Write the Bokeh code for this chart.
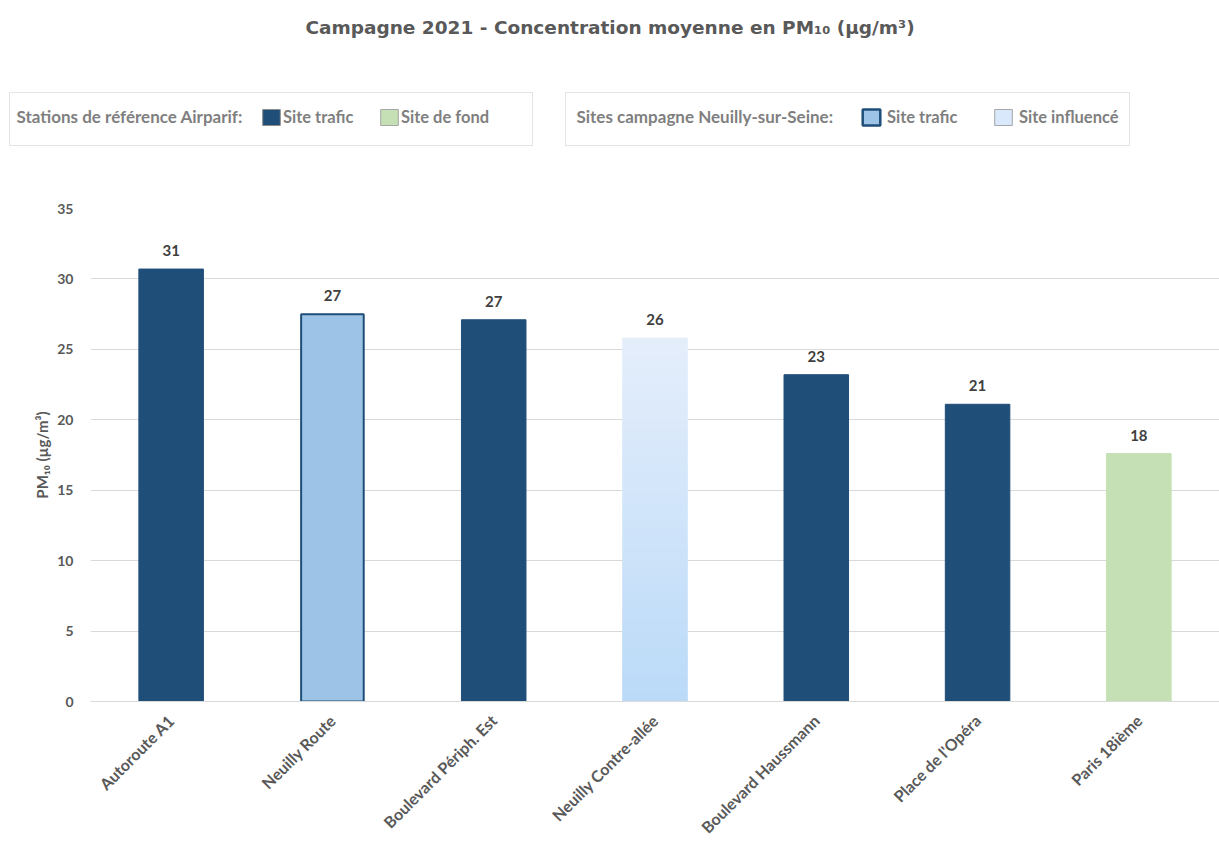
import math
from bokeh.plotting import figure
from bokeh.layouts import column
from bokeh.models import (ColumnDataSource, FactorRange, FixedTicker, LabelSet, Label,
                          BoxAnnotation, Legend, LegendItem, Range1d)
from bokeh.core.properties import value
from bokeh.embed import file_html
from bokeh.resources import INLINE

# ---- data ----
sites = ["Autoroute A1", "Neuilly Route", "Boulevard Périph. Est", "Neuilly Contre-allée",
         "Boulevard Haussmann", "Place de l'Opéra", "Paris 18ième"]
pm10 = [30.7, 27.5, 27.1, 25.8, 23.2, 21.1, 17.6]
labels = ["31", "27", "27", "26", "23", "21", "18"]
kinds = ["ref_trafic", "camp_trafic", "ref_trafic", "camp_influence",
         "ref_trafic", "ref_trafic", "ref_fond"]
y_ticks = [0, 5, 10, 15, 20, 25, 30, 35]

TITLE = "Campagne 2021 - Concentration moyenne en PM₁₀ (µg/m³)"
Y_LABEL = "PM₁₀ (µg/m³)"
LEG1_TITLE = "Stations de référence Airparif:"
LEG2_TITLE = "Sites campagne Neuilly-sur-Seine:"

DARK = "#1F4E79"
LIGHT = "#9DC3E6"
GREEN = "#C5E0B4"
GRAD_TOP = (0xE4, 0xEE, 0xFB)
GRAD_BOT = (0xBB, 0xDA, 0xF8)
GREY_TXT = "#595959"
LEG_TXT = "#7F7F7F"
FONT = "Lato"

W, H = 1219, 847
HH = 160                               # header height
FL, FR, FT, FB = 90, 1219, 208, 701    # frame edges in page px

# ---------------- header (title + legends) ----------------
hdr = figure(width=W, height=HH, x_range=Range1d(0, W), y_range=Range1d(HH, 0),
             x_axis_location=None, y_axis_location=None, output_backend="svg",
             toolbar_location=None, min_border_left=0, min_border_right=0,
             min_border_top=0, min_border_bottom=0, frame_align=False)
hdr.grid.visible = False
hdr.outline_line_color = None

hdr.add_layout(Label(x=W / 2, y=27, text=TITLE, text_align="center",
                     text_baseline="middle", text_font="DejaVu Sans",
                     text_font_style="bold", text_font_size="18.5px", text_color=GREY_TXT))

for l, r in [(9, 532), (565, 1129)]:
    hdr.add_layout(BoxAnnotation(left=l, right=r, top=92, bottom=145,
                                 fill_alpha=0, fill_color=None, line_color="#A6A6A6",
                                 line_width=1))

for txt, x in [(LEG1_TITLE, 16), (LEG2_TITLE, 576)]:
    hdr.add_layout(Label(x=x, y=116, text=txt, text_baseline="middle", text_font=FONT,
                         text_font_style="bold", text_font_size="17px", text_color=LEG_TXT))

BW = 0.4

# legend-only renderers (one hidden point outside the header's visible range)
def dummy(fill, line, lw=1):
    return hdr.rect(x=[-100], y=[-100], width=1, height=1, fill_color=fill,
                    line_color=line, line_width=lw)

d_rt = dummy(DARK, "#8C8C8C")
d_rf = dummy(GREEN, "#A6A6A6")
d_ct = dummy(LIGHT, DARK, 2.5)
d_ci = dummy("#D9E8FA", "#A6A6A6")

def mk_legend(items, x, standoff, lw):
    return Legend(items=items, location=(x, HH - 127), orientation="horizontal",
                  padding=0, margin=0, spacing=0, border_line_color=None,
                  background_fill_alpha=0, glyph_width=22, glyph_height=20,
                  label_height=20, label_width=lw, label_standoff=standoff,
                  label_text_font=FONT, label_text_font_style="bold",
                  label_text_font_size="16.5px", label_text_color=LEG_TXT,
                  label_text_baseline="middle")

hdr.add_layout(mk_legend([LegendItem(label="Site trafic", renderers=[d_rt]),
                          LegendItem(label="Site de fond", renderers=[d_rf])], 260, 1, 95))
hdr.add_layout(mk_legend([LegendItem(label="Site trafic", renderers=[d_ct]),
                          LegendItem(label="Site influencé", renderers=[d_ci])], 860, 5, 105))

# ---------------- main chart ----------------
p = figure(width=W, height=H - HH, x_range=FactorRange(*sites, range_padding=0),
           y_range=(0, 35), output_backend="svg", toolbar_location=None,
           min_border_left=FL, min_border_right=W - FR, min_border_top=FT - HH,
           min_border_bottom=H - FB, frame_align=False)
p.outline_line_color = None

def sel(kind):
    xs = [s for s, k in zip(sites, kinds) if k == kind]
    ys = [v for v, k in zip(pm10, kinds) if k == kind]
    return ColumnDataSource(dict(x=xs, top=ys))

p.vbar(x="x", top="top", width=BW, source=sel("ref_trafic"), fill_color=DARK, line_color=DARK)
p.vbar(x="x", top="top", width=BW, source=sel("ref_fond"), fill_color=GREEN, line_color=GREEN)
p.vbar(x="x", top="top", width=BW - 0.012, source=sel("camp_trafic"), fill_color=LIGHT,
       line_color=DARK, line_width=2)

# gradient fill for the "site influencé" bar (thin slices of that same bar)
N = 40
gx, gb, gt, gc = [], [], [], []
for s, v, k in zip(sites, pm10, kinds):
    if k != "camp_influence":
        continue
    for i in range(N):
        f = i / (N - 1)
        c = tuple(round(GRAD_BOT[j] + (GRAD_TOP[j] - GRAD_BOT[j]) * f) for j in range(3))
        gx.append(s); gb.append(v * i / N); gt.append(v * (i + 1) / N)
        gc.append("#%02X%02X%02X" % c)
p.vbar(x="x", bottom="b", top="t", width=BW, color="c",
       source=ColumnDataSource(dict(x=gx, b=gb, t=gt, c=gc)))

# value labels
lab_src = ColumnDataSource(dict(x=sites, y=pm10, t=labels))
p.add_layout(LabelSet(x="x", y="y", text="t", source=lab_src, text_align="center",
                      text_baseline="bottom", y_offset=13, text_font=value(FONT),
                      text_font_style="bold", text_font_size="15px", text_color="#404040"))

# axes
p.yaxis.ticker = FixedTicker(ticks=y_ticks)
p.yaxis.axis_line_color = None
p.yaxis.major_tick_line_color = None
p.yaxis.minor_tick_line_color = None
p.yaxis.major_tick_out = 0
p.yaxis.minor_tick_out = 0
p.yaxis.major_label_text_font = FONT
p.yaxis.major_label_text_font_style = "bold"
p.yaxis.major_label_text_font_size = "14px"
p.yaxis.major_label_text_color = GREY_TXT
p.yaxis.major_label_standoff = 17
p.yaxis.axis_label = Y_LABEL
p.yaxis.axis_label_text_font = FONT
p.yaxis.axis_label_text_font_style = "bold"
p.yaxis.axis_label_text_font_size = "15px"
p.yaxis.axis_label_text_color = GREY_TXT
p.yaxis.axis_label_standoff = 3

p.xaxis.axis_line_color = "#D9D9D9"
p.xaxis.major_tick_line_color = None
p.xaxis.minor_tick_line_color = None
p.xaxis.major_tick_out = 0
p.xaxis.minor_tick_out = 0
p.xaxis.major_label_orientation = math.pi / 4
p.xaxis.major_label_text_font = FONT
p.xaxis.major_label_text_font_style = "bold"
p.xaxis.major_label_text_font_size = "16px"
p.xaxis.major_label_text_color = GREY_TXT
p.xaxis.major_label_standoff = 16

p.xgrid.grid_line_color = None
p.ygrid.grid_line_color = "#D9D9D9"
p.ygrid.grid_line_width = 1

page = column(hdr, p, spacing=0)
open("out.html", "w").write(file_html(page, INLINE))
